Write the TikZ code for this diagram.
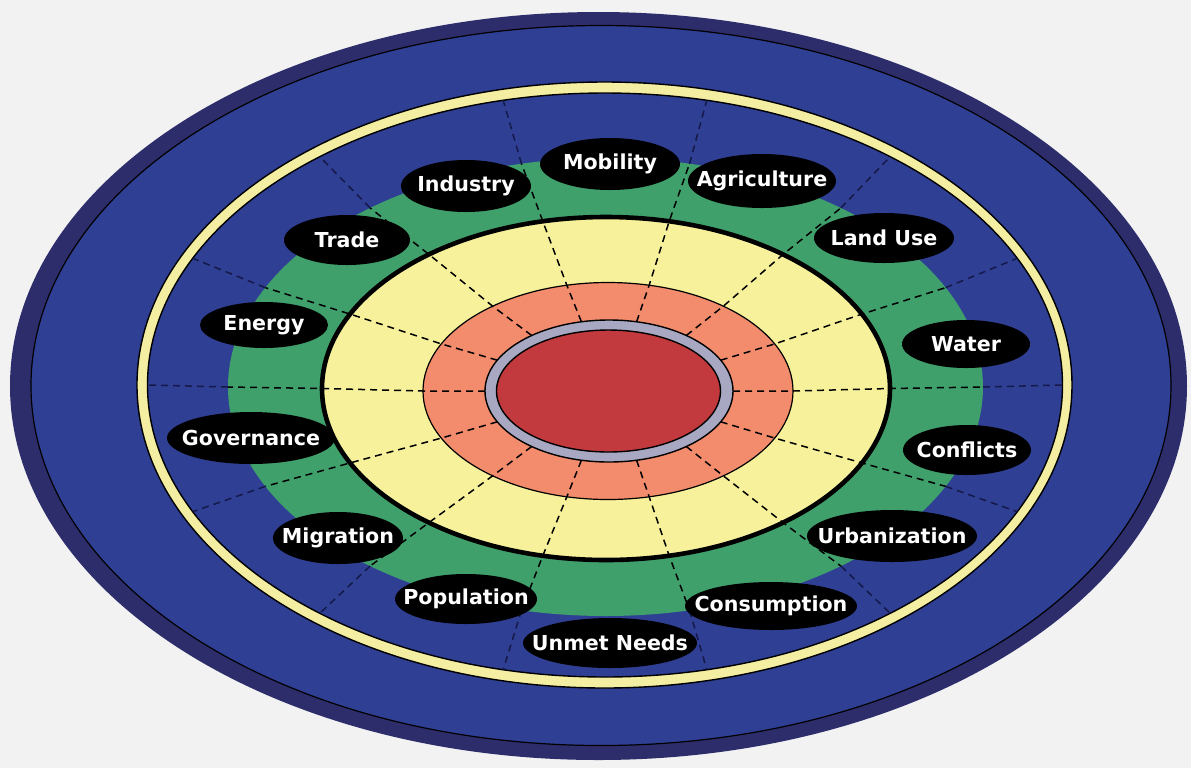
\documentclass[tikz,border=0pt]{standalone}
\usepackage{fontspec}
\setmainfont{DejaVu Sans}
\usetikzlibrary{shapes.geometric,calc}
\definecolor{bgc}{HTML}{F2F2F2}
\definecolor{darknavy}{HTML}{2D2D6C}
\definecolor{navy}{HTML}{2F3F94}
\definecolor{creamc}{HTML}{F4EEA2}
\definecolor{greenc}{HTML}{3FA06C}
\definecolor{yellowc}{HTML}{F6F19A}
\definecolor{salmonc}{HTML}{F28C6C}
\definecolor{greyc}{HTML}{A8A8C2}
\definecolor{redc}{HTML}{C23A3E}
\definecolor{dashnavy}{HTML}{15194A}
\newcommand{\lbltext}[1]{\makebox[0pt]{#1}}
\tikzset{
  lbl/.style={ellipse, fill=black, text=white, inner sep=0pt,
    font=\bfseries\fontsize{10.3}{12}\selectfont},
  sector/.style={dash pattern=on 3.5pt off 2.5pt, line width=0.75pt},
}
\begin{document}
\begin{tikzpicture}[x=0.5pt,y=-0.5pt]
\fill[bgc] (0,0) rectangle (1191,768);
\useasboundingbox (0,0) rectangle (1191,768);
% outer band
\fill[darknavy] (598.5,386) ellipse [x radius=588.5, y radius=374];
\draw[black, line width=0.6pt, fill=navy] (601,385.5) ellipse [x radius=570, y radius=360];
% cream ring
\draw[black, line width=0.7pt, fill=creamc] (604.5,385) ellipse [x radius=467.5, y radius=303];
\draw[black, line width=0.7pt, fill=navy] (605,385) ellipse [x radius=457.5, y radius=292];
% green
\fill[greenc] (605.5,387) ellipse [x radius=377.5, y radius=229];
% yellow
\draw[black, line width=2.3pt, fill=yellowc] (606,388.5) ellipse [x radius=284, y radius=171.5];
% salmon
\draw[black, line width=0.6pt, fill=salmonc] (608,391) ellipse [x radius=185, y radius=108.5];
% grey ring and red core
\draw[black, line width=0.7pt, fill=greyc] (609,391) ellipse [x radius=124, y radius=71];
\draw[black, line width=0.7pt, fill=redc] (608.5,391) ellipse [x radius=112, y radius=61];
% sector lines
\foreach \i in {0,...,13}{
  \pgfmathsetmacro\t{\i*360/14}
  \coordinate (g\i) at ($(609,391)+(\t:124 and 71)$);
  \coordinate (s\i) at ($(608,391)+(\t:185 and 108.5)$);
  \coordinate (y\i) at ($(606,388.5)+(\t:284 and 171.5)$);
  \coordinate (e\i) at ($(605.5,387)+(\t:377.5 and 229)$);
  \coordinate (c\i) at ($(605,385)+(\t:457.5 and 292)$);
  \draw[sector, black] (g\i) -- (s\i) -- (y\i) -- (e\i);
  \draw[sector, dashnavy] (e\i) -- (c\i);
}
% labels
\node[lbl, minimum width=70pt, minimum height=26pt] (mob) at (610,164) {\lbltext{Mobility}};
\node[lbl, minimum width=65pt, minimum height=26pt] (ind) at (466,186) {\lbltext{Industry}};
\node[lbl, minimum width=74pt, minimum height=27pt] (agr) at (762,181) {\lbltext{Agriculture}};
\node[lbl, minimum width=70pt, minimum height=25pt] (land) at (884,238) {\lbltext{Land Use}};
\node[lbl, minimum width=63pt, minimum height=25pt] (trade) at (347,240) {\lbltext{Trade}};
\node[lbl, minimum width=64pt, minimum height=23pt] (energy) at (264,325) {\lbltext{Energy}};
\node[lbl, minimum width=64pt, minimum height=24pt] (water) at (966,344) {\lbltext{Water}};
\node[lbl, minimum width=84pt, minimum height=26pt] (gov) at (251,438) {\lbltext{Governance}};
\node[lbl, minimum width=64pt, minimum height=25pt] (conf) at (967,450) {\lbltext{Conflicts}};
\node[lbl, minimum width=65pt, minimum height=26pt] (mig) at (338,538) {\lbltext{Migration}};
\node[lbl, minimum width=85pt, minimum height=26pt] (urb) at (892,536) {\lbltext{Urbanization}};
\node[lbl, minimum width=71pt, minimum height=25pt] (pop) at (466,599) {\lbltext{Population}};
\node[lbl, minimum width=86pt, minimum height=24pt] (cons) at (771,606) {\lbltext{Consumption}};
\node[lbl, minimum width=87pt, minimum height=25pt] (unmet) at (610,643) {\lbltext{Unmet Needs}};
\end{tikzpicture}
\end{document}
